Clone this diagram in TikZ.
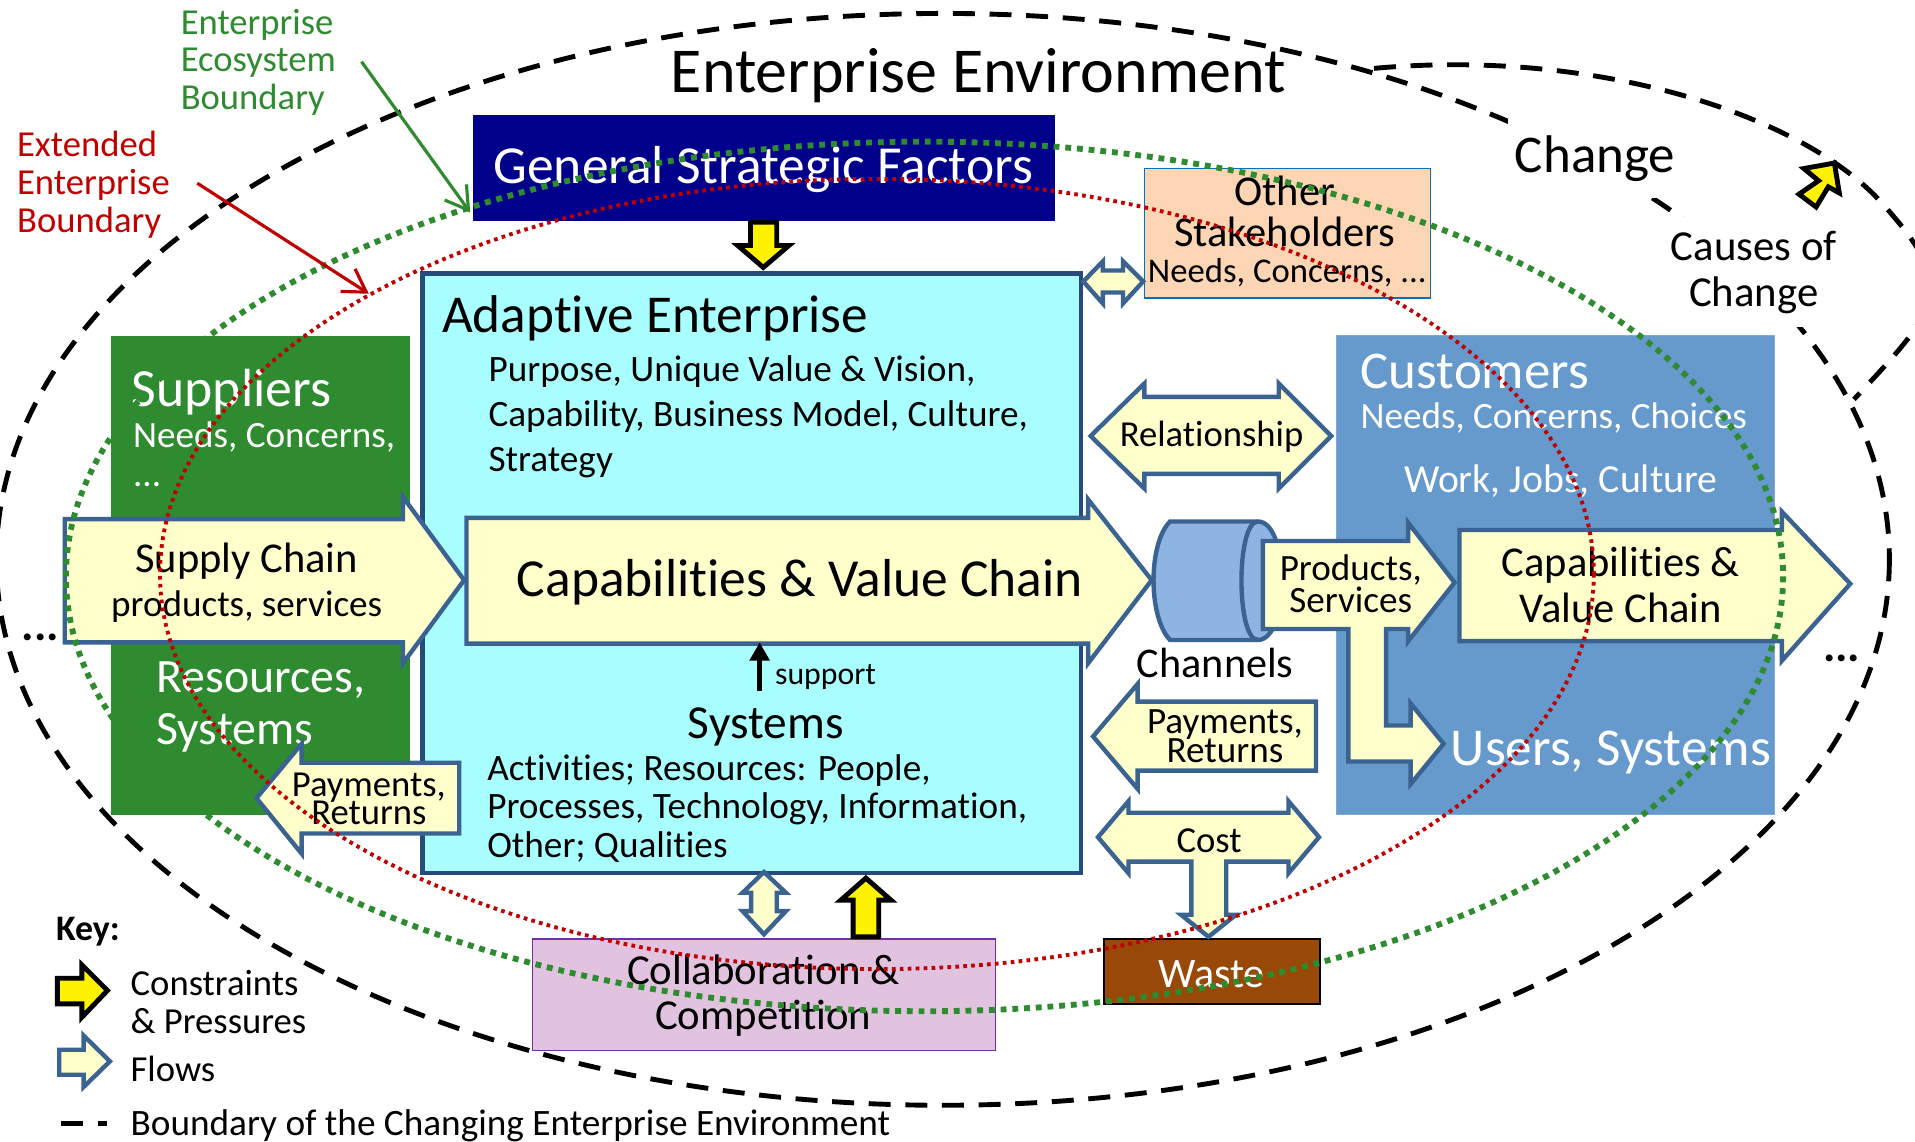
\documentclass[tikz,border=0pt]{standalone}
\usepackage{fontspec}
\setmainfont[Ligatures=NoCommon]{Carlito}
\usetikzlibrary{arrows.meta}
\normallineskiplimit=-100pt
\lineskiplimit=-100pt
\definecolor{flowblue}{HTML}{3B6391}
\definecolor{flowfill}{HTML}{FFFFCC}
\definecolor{gsfblue}{HTML}{00008B}
\definecolor{othersfill}{HTML}{FCD5B5}
\definecolor{othersline}{HTML}{0070C0}
\definecolor{cyanfill}{HTML}{A9FFFF}
\definecolor{cyanline}{HTML}{254A7C}
\definecolor{grn}{HTML}{2F8B2F}
\definecolor{custblue}{HTML}{6699CC}
\definecolor{custline}{HTML}{7FA8D4}
\definecolor{chanfill}{HTML}{8EB4E3}
\definecolor{wastefill}{HTML}{984807}
\definecolor{collabfill}{HTML}{E1C2DF}
\definecolor{collabline}{HTML}{7030A0}
\definecolor{redd}{HTML}{C00000}
\tikzset{
  x=0.5pt,y=-0.5pt,
  fs/.style 2 args={font=\fontsize{#1}{#2}\selectfont},
  lbl/.style={inner sep=0pt,outer sep=0pt,align=center,yshift=-1pt},
  lbll/.style={inner sep=0pt,outer sep=0pt,align=left,anchor=west,yshift=-1pt},
  boxn/.style={inner sep=0pt,outer sep=0pt,anchor=north west},
  flowshape/.style={draw=flowblue,fill=flowfill,line width=1.8pt,miter limit=10},
  pressure/.style={draw=black,fill=yellow,line width=2pt,miter limit=10},
  boundary/.style={draw=black,line width=2pt,dash pattern=on 9pt off 6pt},
  ecodots/.style={draw=grn,line width=2.4pt,dash pattern=on 2.4pt off 2.4pt},
  extdots/.style={draw=redd,line width=1.6pt,dash pattern=on 1.5pt off 1.75pt},
  leader/.style={line width=1.3pt,-{Straight Barb[length=9pt,width=11pt,line width=1.3pt]}},
}
\begin{document}
\begin{tikzpicture}
\useasboundingbox (0,0) rectangle (1568,935);
\clip (0,0) rectangle (1568,935);
% outer boundary and change curve
\draw[boundary] (772,458) ellipse [x radius=775, y radius=447];
\draw[boundary] (1125,56) .. controls (1300,40) and (1465,90) .. (1535,160) .. controls (1605,235) and (1590,250) .. (1518,327);
\node[lbl,fs={21.7}{24},fill=white,minimum width=71pt,minimum height=32.5pt] (change) at (1306,128) {Change};
\node[lbl,fs={17.5}{19},fill=white,minimum width=70pt,minimum height=45pt] (causes) at (1436,221) {Causes of\\Change};
% boxes behind
\node[boxn,fill=gsfblue,minimum width=238pt,minimum height=43.5pt] (gsf) at (387.5,94) {};
\node[lbl,fs={21.9}{24},text=white] (gsft) at (625,137) {General Strategic Factors};
\node[boxn,draw=othersline,line width=0.5pt,fill=othersfill,minimum width=117pt,minimum height=53pt] (others) at (937,138) {};
\node[lbl,fs={17.4}{16.5}] (otherst) at (1052,171) {Other\\Stakeholders};
\node[lbl,fs={14.2}{16}] (othersn) at (1054,221) {Needs, Concerns, ...};
\node[boxn,fill=grn,minimum width=122.5pt,minimum height=196pt] (suppliers) at (91,275) {};
\node[lbll,fs={22}{24},text=white] (supt) at (108,319) {Suppliers};
\node[lbll,fs={15.2}{16}, text=white] (supn) at (109,370) {Needs, Concerns,\\...};
\node[lbll,fs={19.6}{21.5},text=white] (res) at (128,577) {Resources,\\Systems};
\node[boxn,draw=custline,line width=0.5pt,fill=custblue,minimum width=179.5pt,minimum height=196pt] (customers) at (1094,275) {};
\node[lbll,fs={21.7}{24},text=white] (custt) at (1114,302) {Customers};
\node[lbll,fs={15.2}{16},text=white] (custn) at (1114,340) {Needs, Concerns, Choices};
\node[lbl,fs={16.3}{18},text=white] (custw) at (1278,392) {Work, Jobs, Culture};
\node[lbll,fs={21.8}{24},text=white] (users) at (1188,614) {Users, Systems};
\node[boxn,draw=collabline,line width=0.6pt,fill=collabfill,minimum width=189.5pt,minimum height=45.5pt] (collab) at (436,769) {};
\node[lbl,fs={17.5}{18.5}] (collabt) at (625,813) {Collaboration \&\\Competition};
\node[boxn,draw=black,line width=0.8pt,fill=wastefill,minimum width=88.5pt,minimum height=26.5pt] (waste) at (904,769) {};
\node[lbl,fs={17.2}{20},text=white] (wastet) at (992,796) {Waste};
% adaptive box
\node[boxn,draw=cyanline,line width=1.8pt,fill=cyanfill,minimum width=269.5pt,minimum height=245.5pt] (adaptive) at (346,224) {};
\node[lbll,fs={21.8}{24}] (adt) at (362,259) {Adaptive Enterprise};
\node[lbll,fs={15.25}{18.5}] (adp) at (400,339) {Purpose, Unique Value \& Vision,\\Capability, Business Model, Culture,\\Strategy};
% capabilities
\draw[flowshape] (382,424) -- (891,424) -- (891,409) -- (943,475) -- (891,543) -- (891,527) -- (382,527) -- cycle;
\node[lbl,fs={21.9}{24}] (capt) at (655,475) {Capabilities \& Value Chain};
\draw[-{Triangle[length=7.5pt,width=8pt]},line width=1.8pt] (622,565.5) -- (622,526);
\node[lbl,fs={13}{14}] (supp) at (676,552) {support};
\node[lbl,fs={19.4}{20}] (sys) at (627,593) {Systems};
\node[lbll,fs={15.25}{15.8}] (sysd) at (399,660) {Activities; Resources: People,\\Processes, Technology, Information,\\Other; Qualities};
% yellow arrows
\draw[pressure] (614.5,182) -- (636,182) -- (636,201) -- (646,201) -- (625,219) -- (604,201) -- (614.5,201) -- cycle;
\draw[pressure] (698.5,767) -- (698.5,737) -- (688.5,737) -- (709,719) -- (729.5,737) -- (719.5,737) -- (719.5,767) -- cycle;
\draw[pressure] (1502,133.5) -- (1477,138) -- (1489,148) -- (1473,159) -- (1487,169.5) -- (1497,153) -- (1506,158) -- cycle;
% flows
\draw[flowshape] (53,425) -- (330,425) -- (330,407) -- (380,475) -- (330,543) -- (330,526) -- (53,526) -- cycle;
\node[lbl,fs={17.4}{18}] (supct) at (202,475) {Supply Chain\\{\fontsize{15.2}{18}\selectfont products, services}};
\draw[flowshape] (376,624.5) -- (247,624.5) -- (247,609) -- (210,653.5) -- (247,699) -- (247,682.5) -- (376,682.5) -- cycle;
\node[lbl,fs={15}{11.5}] (payl) at (302,652) {Payments,\\Returns};
\draw[flowshape] (887,230.5) -- (903,214) -- (903,221.5) -- (919.5,221.5) -- (919.5,214) -- (936,230.5) -- (919.5,248.5) -- (919.5,239.5) -- (903,239.5) -- (903,248.5) -- cycle;
\draw[flowshape] (893,357) -- (937,314) -- (937,325) -- (1047,325) -- (1047,314) -- (1090,357) -- (1047,400) -- (1047,388) -- (937,388) -- (937,400) -- cycle;
\node[lbl,fs={15}{17}] (relt) at (992,356) {Relationship};
\draw[flowshape] (1077.5,574.5) -- (931.5,574.5) -- (931.5,560) -- (895,603) -- (931.5,646) -- (931.5,631) -- (1077.5,631) -- cycle;
\node[lbl,fs={15.2}{12}] (payr) at (1003,601) {Payments,\\Returns};
\draw[flowshape] (899,685.5) -- (924,656) -- (924,665.5) -- (1055,665.5) -- (1055,656) -- (1080,685.5) -- (1055,715) -- (1055,705.5) -- (1004,705.5) -- (1004,749) -- (1012,749) -- (989.5,767) -- (967,749) -- (975.5,749) -- (975.5,705.5) -- (924,705.5) -- (924,715) -- cycle;
\node[lbl,fs={15}{16}] (costt) at (990,686) {Cost};
\draw[flowshape] (625.5,714) -- (643.5,731) -- (636,731) -- (636,746) -- (643.5,746) -- (625.5,765) -- (608,746) -- (615,746) -- (615,731) -- (608,731) -- cycle;
% channels
\draw[draw=flowblue,fill=chanfill,line width=1.8pt] (1030,427) -- (958,427) .. controls (940,445) and (940,505) .. (958,524) -- (1030,524) .. controls (1056,524) and (1056,427) .. (1030,427) -- cycle;
\draw[draw=flowblue,line width=1.8pt] (1030,427) .. controls (1012,427) and (1012,524) .. (1030,524);
\node[lbl,fs={17.3}{18}] (chant) at (995,541) {Channels};
% products
\draw[flowshape] (1034,443) -- (1153,443) -- (1153,428) -- (1191,477) -- (1153,525) -- (1153,515) -- (1135,515) -- (1135,594) -- (1155,594) -- (1155,576) -- (1182,609) -- (1155,642) -- (1155,623.5) -- (1104,623.5) -- (1104,515) -- (1034,515) -- cycle;
\node[lbl,fs={15.2}{13}] (prodt) at (1106,476) {Products,\\Services};
\draw[flowshape] (1195,434) -- (1459,434) -- (1459,419) -- (1515,478) -- (1459,541) -- (1459,525) -- (1195,525) -- cycle;
\node[lbl,fs={17.4}{19}] (capr) at (1327,477) {Capabilities \&\\Value Chain};
% ellipses (above everything but the adaptive box area)
\begin{scope}
\clip (0,0) -- (1568,0) -- (1568,935) -- (0,935) -- cycle (345,223) -- (345,716) -- (886,716) -- (886,223) -- cycle;
\draw[ecodots] (757,472) ellipse [x radius=703, y radius=356];
\draw[extdots] (718,470) ellipse [x radius=587, y radius=323.5];
\end{scope}
% titles
\node[lbl,fs={26.2}{28}] (title) at (801,60) {Enterprise Environment};
\node[lbll,fs={15}{15.5},text=grn] (ecot) at (148,49) {Enterprise\\Ecosystem\\Boundary};
\node[lbll,fs={15}{15.5},text=redd] (extt) at (14,149) {Extended\\Enterprise\\Boundary};
\coordinate (ecoa) at (296,50.5);
\coordinate (ecob) at (385,174);
\coordinate (exta) at (161.5,150);
\coordinate (extb) at (302,240.5);
\draw[leader,draw=grn] (ecoa) -- (ecob);
\draw[leader,draw=redd] (exta) -- (extb);
\node[lbl,font=\fontsize{19}{20}\selectfont\bfseries] (dotsl) at (33,520) {...};
\node[lbl,font=\fontsize{19}{20}\selectfont\bfseries] (dotsr) at (1508,537) {...};
% key
\node[lbll,font=\fontsize{14.7}{16}\selectfont\bfseries] (keyt) at (46,761) {Key:};
\draw[pressure] (47,801) -- (67,801) -- (67,790) -- (88,811) -- (67,833) -- (67,822) -- (47,822) -- cycle;
\node[lbll,fs={15}{15.5}] (keyc) at (107,818.5) {Constraints\\\& Pressures};
\draw[flowshape] (48.5,859.5) -- (68.5,859.5) -- (68.5,848) -- (90,869) -- (68.5,890) -- (68.5,880) -- (48.5,880) -- cycle;
\node[lbll,fs={15}{16}] (keyf) at (107,873) {Flows};
\coordinate (keya) at (50,920);
\coordinate (keyb) at (88,920);
\draw[boundary] (keya) -- (keyb);
\node[lbll,fs={15.25}{16}] (keyb2) at (107,919.5) {Boundary of the Changing Enterprise Environment};
\end{tikzpicture}
\end{document}
